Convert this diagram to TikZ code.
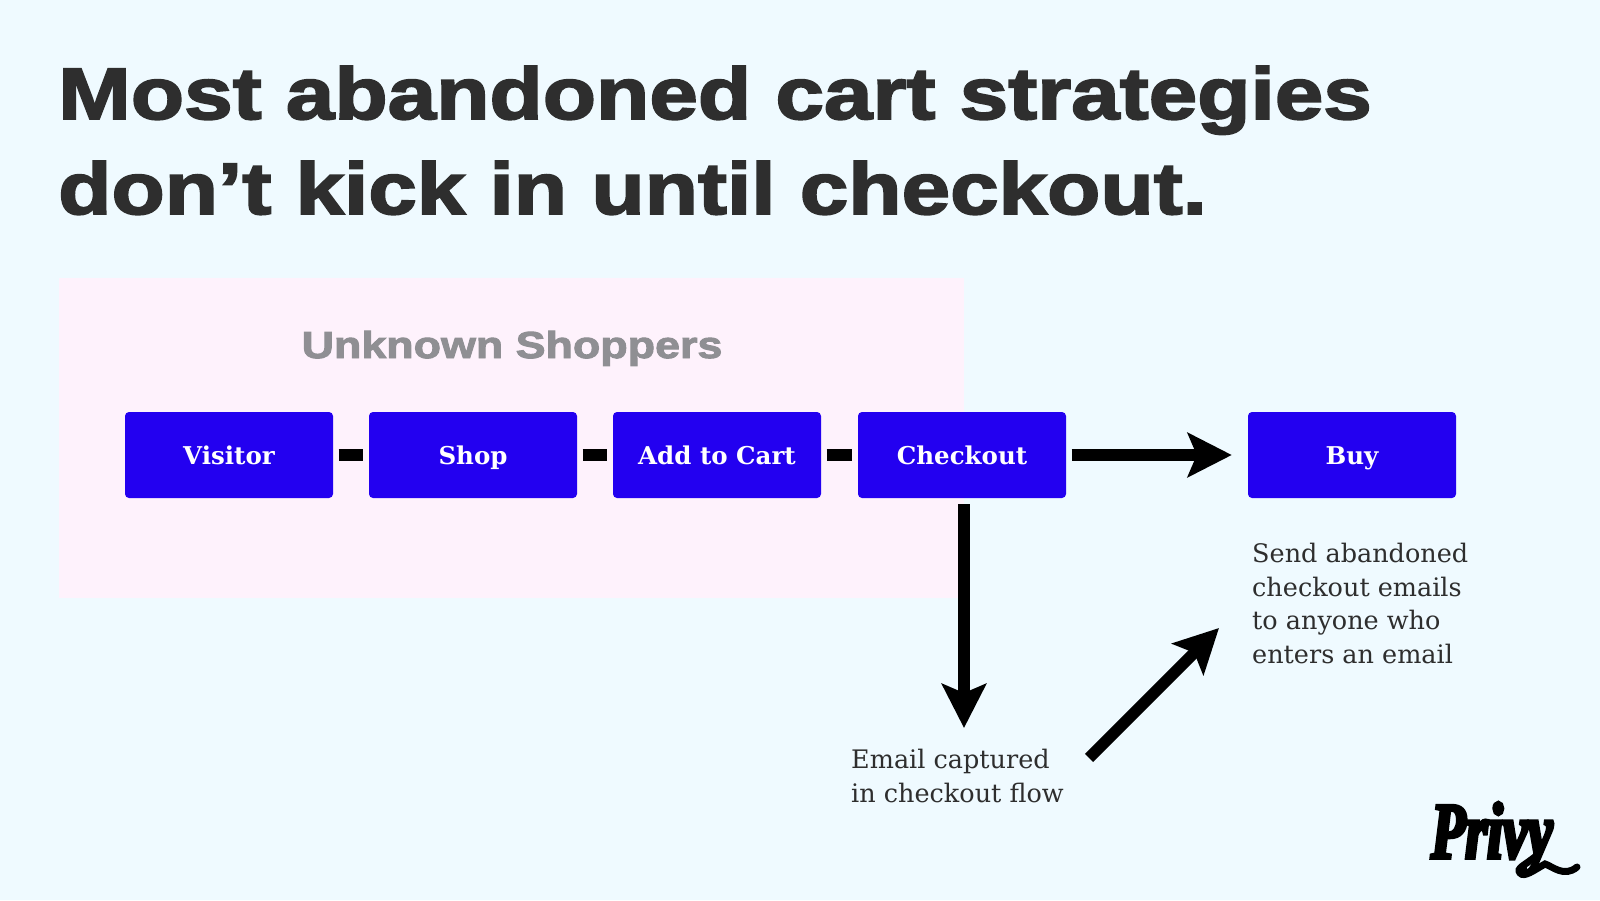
\documentclass[tikz,border=0pt]{standalone}
\usepackage{fontspec}
\setmainfont{DejaVu Serif}
\newfontfamily\headfont[BoldFeatures={FakeBold=2.6,FakeStretch=1.195}]{Liberation Sans}
\newfontfamily\logofont[BoldItalicFeatures={FakeBold=4.5,FakeStretch=0.7}]{Liberation Serif}
\usetikzlibrary{arrows.meta}
\definecolor{bgc}{HTML}{EFFAFF}
\definecolor{pinkc}{HTML}{FEF2FC}
\definecolor{bluec}{HTML}{2300F0}
\definecolor{darkc}{HTML}{2E2E2E}
\definecolor{greyc}{HTML}{8F8F93}
\tikzset{x=1pt,y=-1pt,
 stepbox/.style={draw=none,fill=bluec,rounded corners=4pt,minimum width=208pt,minimum height=86pt,inner sep=0pt,text=white,text height=24pt,text depth=5pt,font=\bfseries\fontsize{24.5}{30}\selectfont},
 title/.style={anchor=base west,inner sep=0pt,text=darkc,font=\headfont\bfseries\fontsize{73}{80}\selectfont},
 note/.style={anchor=base west,inner sep=0pt,text=darkc,font=\fontsize{25.5}{30}\selectfont},
 link/.style={line width=11.5pt,draw=black},
 bigarrow/.style={line width=11.5pt,draw=black,-{Stealth[length=44pt,width=44pt,inset=9pt]}}}
\begin{document}
\begin{tikzpicture}
\useasboundingbox (0,0) rectangle (1600,900);
\fill[bgc] (0,0) rectangle (1600,900);
\fill[pinkc] (59,278) rectangle (964,598);
\node[title] (t1) at (58,119) {Most abandoned cart strategies};
\node[title] (t2) at (58,214) {don’t kick in until checkout.};
\node[anchor=base,inner sep=0pt,text=greyc,font=\headfont\bfseries\fontsize{37.5}{40}\selectfont] (u) at (512,358) {Unknown Shoppers};
\node[stepbox] (v) at (229,455) {Visitor};
\node[stepbox] (s) at (473,455) {Shop};
\node[stepbox] (a) at (717,455) {Add to Cart};
\node[stepbox] (c) at (962,455) {Checkout};
\node[stepbox] (b) at (1352,455) {Buy};
\draw[link] ([xshift=5.5pt]v.east) -- ([xshift=-5.5pt]s.west);
\draw[link] ([xshift=5.5pt]s.east) -- ([xshift=-5.5pt]a.west);
\draw[link] ([xshift=5.5pt]a.east) -- ([xshift=-5.5pt]c.west);
\draw[bigarrow] ([xshift=5.5pt]c.east) -- ([xshift=-16pt]b.west);
\coordinate (e) at (964,504);
\coordinate (d) at (964,728);
\draw[bigarrow] (e) -- (d);
\coordinate (f) at (1089,758);
\coordinate (g) at (1219,628);
\draw[bigarrow] (f) -- (g);
\node[note] (n1) at (851,768) {Email captured};
\node[note] (n2) at (851,802) {in checkout flow};
\node[note] (n3) at (1252,562) {Send abandoned};
\node[note] (n4) at (1252,596) {checkout emails};
\node[note] (n5) at (1252,629) {to anyone who};
\node[note] (n6) at (1252,663) {enters an email};
\node[anchor=base west,inner sep=0pt,text=black,font=\logofont\bfseries\itshape\fontsize{80}{82}\selectfont] (p) at (1431,858) {Privy};
\coordinate (ts) at (1536,856);
\coordinate (te) at (1577,867);
\draw[line width=7pt,line cap=round] (ts) .. controls (1524,866) and (1516,868) .. (1520,873) .. controls (1524,878) and (1534,870) .. (1545,864) .. controls (1552,866) and (1564,878) .. (te);
\end{tikzpicture}
\end{document}
